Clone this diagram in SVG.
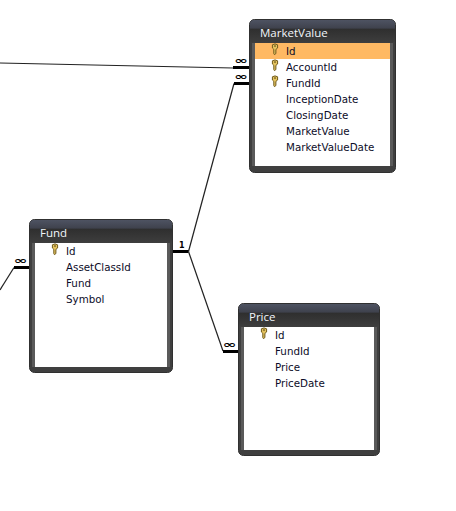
<svg xmlns="http://www.w3.org/2000/svg" width="456" height="511" viewBox="0 0 456 511">
<defs>
<linearGradient id="hd" x1="0" y1="0" x2="0" y2="1"><stop offset="0" stop-color="#4e5362"/><stop offset="0.35" stop-color="#3f424d"/><stop offset="0.4" stop-color="#2f2f2f"/><stop offset="1" stop-color="#3e3e3e"/></linearGradient>
<g id="key"><path d="M-2.600 -4.200 Q0 -6 2.600 -4.200 L2.600 -1 L0.900 0.400 L0.900 4.600 L-0.600 5.600 L-1.200 4.600 L-1.200 0.400 L-2.600 -1 Z" fill="#e3c25e" stroke="#6f5a1c" stroke-width="1"/><rect x="-0.900" y="-3.600" width="1.800" height="1.300" fill="#6f5a1c"/></g>
</defs>
<style>
.frame{fill:#3f3f3f;stroke:#303030;stroke-width:1}
.head{fill:url(#hd)}
.side{fill:#5a5a5a}
.body{fill:#fff}
.title{font:11.5px "Open Sans","DejaVu Sans",sans-serif;fill:#f2f6fa}
.row{font:10.3px "DejaVu Sans",sans-serif;fill:#0c0c28}
.line{fill:none;stroke:#222;stroke-width:1.200}
.stub{fill:none;stroke:#000;stroke-width:3}
.inf{font:bold 10px "DejaVu Sans",sans-serif;fill:#000}
.one{font:bold 8px "DejaVu Sans",sans-serif;fill:#000}
</style>
<g id="connectors">
<path class="line" d="M0 63 L233 68"/>
<path class="stub" d="M233 67.500 H250"/>
<path class="line" d="M234 83.500 L188.500 251.500"/>
<path class="stub" d="M234 83.500 H250"/>
<path class="stub" d="M173 251.500 H188.500"/>
<path class="line" d="M188.500 251.500 L223 351"/>
<path class="stub" d="M223 351.500 H238"/>
<path class="line" d="M14 267.500 L0 290"/>
<path class="stub" d="M14 267.500 H29"/>
<text class="inf" x="234" y="64" textLength="13.500" lengthAdjust="spacingAndGlyphs">∞</text>
<text class="inf" x="234" y="80" textLength="13.500" lengthAdjust="spacingAndGlyphs">∞</text>
<text class="inf" x="222.500" y="348" textLength="13.500" lengthAdjust="spacingAndGlyphs">∞</text>
<text class="inf" x="13.500" y="264" textLength="13.500" lengthAdjust="spacingAndGlyphs">∞</text>
<text class="one" x="179" y="248">1</text>
</g>
<g id="node-marketvalue">
<rect class="frame" x="249.500" y="19.500" width="146" height="153" rx="5"/>
<rect class="head" x="250" y="20" width="145" height="23" rx="4"/>
<rect class="side" x="252" y="43" width="141" height="123"/>
<rect class="body" x="255" y="43" width="135" height="123"/>
<rect x="255" y="43" width="135" height="16" fill="#ffb963"/>
<text class="title" x="260" y="37">MarketValue</text>
<use href="#key" x="275" y="49"/><use href="#key" x="275" y="65"/><use href="#key" x="275" y="81"/>
<text class="row" x="286" y="55">Id</text>
<text class="row" x="286" y="71">AccountId</text>
<text class="row" x="286" y="87">FundId</text>
<text class="row" x="286" y="103">InceptionDate</text>
<text class="row" x="286" y="119">ClosingDate</text>
<text class="row" x="286" y="135">MarketValue</text>
<text class="row" x="286" y="151">MarketValueDate</text>
</g>
<g id="node-fund">
<rect class="frame" x="29.500" y="219.500" width="143" height="153" rx="5"/>
<rect class="head" x="30" y="220" width="142" height="23" rx="4"/>
<rect class="side" x="32" y="243" width="138" height="124"/>
<rect class="body" x="35" y="243" width="132" height="124"/>
<text class="title" x="40" y="237">Fund</text>
<use href="#key" x="55" y="249"/>
<text class="row" x="66" y="255">Id</text>
<text class="row" x="66" y="271">AssetClassId</text>
<text class="row" x="66" y="287">Fund</text>
<text class="row" x="66" y="303">Symbol</text>
</g>
<g id="node-price">
<rect class="frame" x="238.500" y="303.500" width="141" height="152" rx="5"/>
<rect class="head" x="239" y="304" width="140" height="23" rx="4"/>
<rect class="side" x="241" y="327" width="136" height="123"/>
<rect class="body" x="244" y="327" width="130" height="123"/>
<text class="title" x="249" y="321">Price</text>
<use href="#key" x="264" y="333"/>
<text class="row" x="275" y="339">Id</text>
<text class="row" x="275" y="355">FundId</text>
<text class="row" x="275" y="371">Price</text>
<text class="row" x="275" y="387">PriceDate</text>
</g>
</svg>
